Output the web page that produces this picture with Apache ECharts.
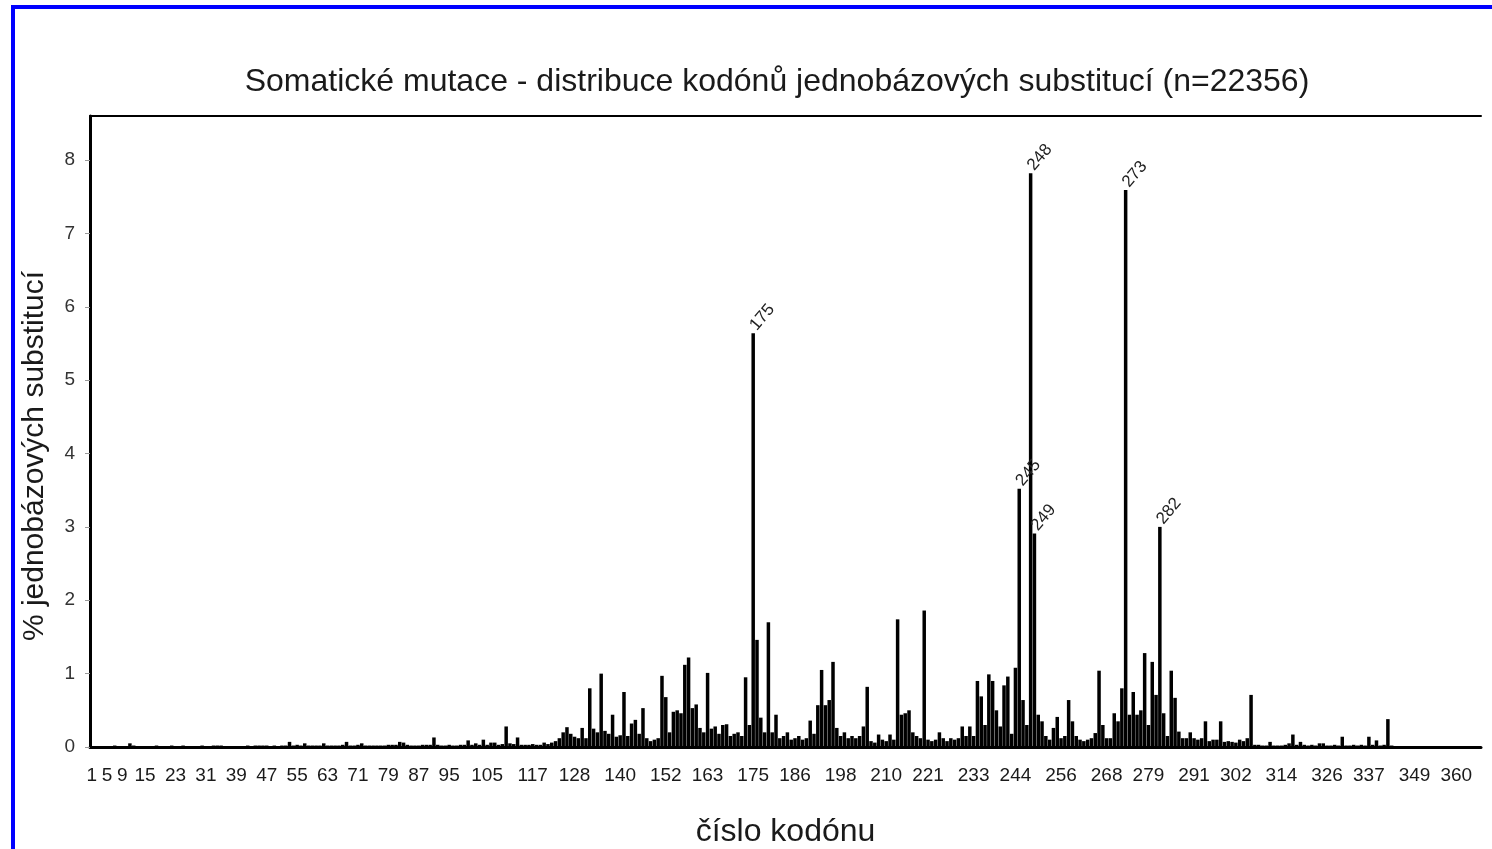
<!DOCTYPE html>
<html>
<head>
<meta charset="utf-8">
<script src="https://cdn.jsdelivr.net/npm/echarts@6/dist/echarts.min.js"></script>
<style>
  html, body { margin: 0; padding: 0; background: #fff; }
  #root { width: 1492px; height: 849px; }
</style>
</head>
<body>
<div id="root"></div>
<script>
// % of single-base substitutions per codon, codons 1..366 (rows of 10)
const codonPct = [
  0.01, 0.01, 0, 0.01, 0.01, 0.01, 0.02, 0.01, 0.01, 0.01,
  0.05, 0.02, 0.01, 0.01, 0.01, 0.01, 0.01, 0.02, 0.01, 0.01,
  0.01, 0.02, 0.01, 0.01, 0.02, 0.01, 0.01, 0.01, 0.01, 0.02,
  0.01, 0.01, 0.02, 0.02, 0.02, 0.01, 0.01, 0.01, 0.01, 0.01,
  0.01, 0.02, 0.01, 0.02, 0.02, 0.02, 0.02, 0.01, 0.02, 0.01,
  0.02, 0.02, 0.07, 0.02, 0.03, 0.02, 0.05, 0.02, 0.02, 0.02,
  0.02, 0.05, 0.02, 0.02, 0.02, 0.02, 0.03, 0.07, 0.02, 0.02,
  0.03, 0.05, 0.02, 0.02, 0.02, 0.02, 0.02, 0.02, 0.03, 0.03,
  0.03, 0.07, 0.06, 0.03, 0.02, 0.02, 0.02, 0.03, 0.03, 0.03,
  0.13, 0.03, 0.02, 0.02, 0.03, 0.02, 0.02, 0.03, 0.03, 0.09,
  0.03, 0.05, 0.03, 0.10, 0.03, 0.06, 0.06, 0.03, 0.04, 0.28,
  0.05, 0.04, 0.13, 0.03, 0.03, 0.03, 0.04, 0.03, 0.03, 0.06,
  0.04, 0.06, 0.08, 0.12, 0.20, 0.27, 0.18, 0.14, 0.12, 0.26,
  0.12, 0.80, 0.25, 0.20, 1.00, 0.22, 0.18, 0.44, 0.14, 0.16,
  0.75, 0.15, 0.32, 0.37, 0.18, 0.53, 0.12, 0.08, 0.10, 0.12,
  0.97, 0.68, 0.20, 0.48, 0.50, 0.46, 1.12, 1.22, 0.53, 0.58,
  0.26, 0.20, 1.01, 0.25, 0.28, 0.18, 0.30, 0.31, 0.15, 0.18,
  0.20, 0.15, 0.95, 0.30, 5.64, 1.46, 0.40, 0.20, 1.70, 0.20,
  0.44, 0.12, 0.15, 0.20, 0.10, 0.12, 0.15, 0.10, 0.12, 0.36,
  0.18, 0.57, 1.05, 0.57, 0.64, 1.16, 0.26, 0.15, 0.20, 0.12,
  0.15, 0.12, 0.15, 0.28, 0.82, 0.08, 0.06, 0.17, 0.10, 0.08,
  0.17, 0.10, 1.74, 0.44, 0.46, 0.50, 0.20, 0.15, 0.12, 1.86,
  0.10, 0.08, 0.10, 0.20, 0.12, 0.08, 0.12, 0.10, 0.12, 0.28,
  0.15, 0.28, 0.15, 0.90, 0.69, 0.30, 0.99, 0.90, 0.50, 0.28,
  0.84, 0.96, 0.18, 1.08, 3.52, 0.64, 0.30, 7.82, 2.91, 0.44,
  0.35, 0.15, 0.10, 0.26, 0.41, 0.12, 0.15, 0.64, 0.35, 0.15,
  0.10, 0.08, 0.10, 0.12, 0.19, 1.04, 0.30, 0.12, 0.12, 0.46,
  0.35, 0.80, 7.59, 0.44, 0.75, 0.44, 0.50, 1.28, 0.30, 1.16,
  0.71, 3.00, 0.46, 0.15, 1.04, 0.67, 0.21, 0.12, 0.12, 0.20,
  0.12, 0.10, 0.12, 0.35, 0.08, 0.10, 0.10, 0.35, 0.07, 0.08,
  0.07, 0.06, 0.10, 0.08, 0.12, 0.71, 0.03, 0.03, 0.02, 0.02,
  0.07, 0.02, 0.02, 0.02, 0.03, 0.05, 0.17, 0.03, 0.07, 0.03,
  0.02, 0.03, 0.02, 0.05, 0.05, 0.02, 0.02, 0.03, 0.02, 0.14,
  0.02, 0.02, 0.03, 0.02, 0.03, 0.02, 0.14, 0.03, 0.09, 0.02,
  0.03, 0.38, 0.02, 0.01, 0.01, 0.01, 0.01, 0.01, 0.01, 0.01,
  0.01, 0.01, 0, 0.01, 0, 0, 0.01, 0, 0, 0,
  0, 0, 0, 0, 0, 0
]

// codons printed on the x axis
const tickCodons = [1, 5, 9, 15, 23, 31, 39, 47, 55, 63, 71, 79, 87, 95, 105, 117,
  128, 140, 152, 163, 175, 186, 198, 210, 221, 233, 244, 256, 268, 279, 291,
  302, 314, 326, 337, 349, 360]

// hotspot codons labelled above their bars
const hotspots = [175, 245, 248, 249, 273, 282]

const codons = codonPct.map((v, i) => String(i + 1))

const seriesData = codonPct.map((v, i) => {
  if (hotspots.indexOf(i + 1) >= 0) {
    return { value: v, label: { show: true, formatter: String(i + 1) } }
  }
  return v
})

const font = 'Liberation Sans, Arial, sans-serif'
const chart = echarts.init(document.getElementById('root'))

chart.setOption({
  backgroundColor: '#fff',
  animation: false,
  title: {
    text: 'Somatické mutace - distribuce kodónů jednobázových substitucí (n=22356)',
    left: 772,
    top: 61,
    textAlign: 'center',
    textStyle: { fontFamily: font, fontSize: 32, fontWeight: 'normal', color: '#1a1a1a' }
  },
  grid: { left: 90, right: 11, top: 116, bottom: 102, outerBoundsMode: 'none', containLabel: false },
  xAxis: [
    {
      type: 'category',
      data: codons,
      name: 'číslo kodónu',
      nameLocation: 'middle',
      nameGap: 69,
      nameTextStyle: { fontFamily: font, fontSize: 32, color: '#1a1a1a' },
      axisLine: { lineStyle: { color: '#000', width: 3 } },
      axisTick: { interval: 1, length: 5, lineStyle: { color: '#aaa' } },
      axisLabel: {
        interval: (idx, val) => tickCodons.indexOf(+val) >= 0,
        margin: 19,
        fontFamily: font,
        fontSize: 19,
        color: '#1a1a1a'
      }
    },
    {
      // top frame line of the plot box
      type: 'category',
      position: 'top',
      data: codons,
      axisLine: { lineStyle: { color: '#000', width: 2 } },
      axisTick: { show: false },
      axisLabel: { show: false }
    }
  ],
  yAxis: {
    type: 'value',
    min: 0,
    max: 8.6,
    interval: 1,
    splitLine: { show: false },
    axisLine: { show: true, lineStyle: { color: '#000', width: 3 } },
    axisTick: { show: true, length: 5, lineStyle: { color: '#999' } },
    axisLabel: {
      showMaxLabel: false,
      margin: 15,
      fontFamily: font,
      fontSize: 19,
      color: '#333'
    }
  },
  series: [{
    type: 'bar',
    data: seriesData,
    barCategoryGap: '8%',
    itemStyle: { color: '#000' },
    label: {
      show: false,
      position: 'top',
      distance: 5,
      rotate: 50,
      align: 'left',
      verticalAlign: 'middle',
      fontFamily: font,
      fontSize: 17,
      color: '#222'
    }
  }],
  graphic: [
    // blue frame, top and left edges
    { type: 'rect', shape: { x: 11, y: 5, width: 1481, height: 4 }, style: { fill: '#0000ff' } },
    { type: 'rect', shape: { x: 11, y: 5, width: 4, height: 844 }, style: { fill: '#0000ff' } },
    // y axis title
    {
      type: 'text',
      x: 35,
      y: 456,
      rotation: Math.PI / 2,
      style: {
        text: '% jednobázových substitucí',
        fontFamily: font,
        fontSize: 30,
        fill: '#1a1a1a',
        align: 'center',
        verticalAlign: 'middle'
      }
    }
  ]
})
</script>
</body>
</html>
